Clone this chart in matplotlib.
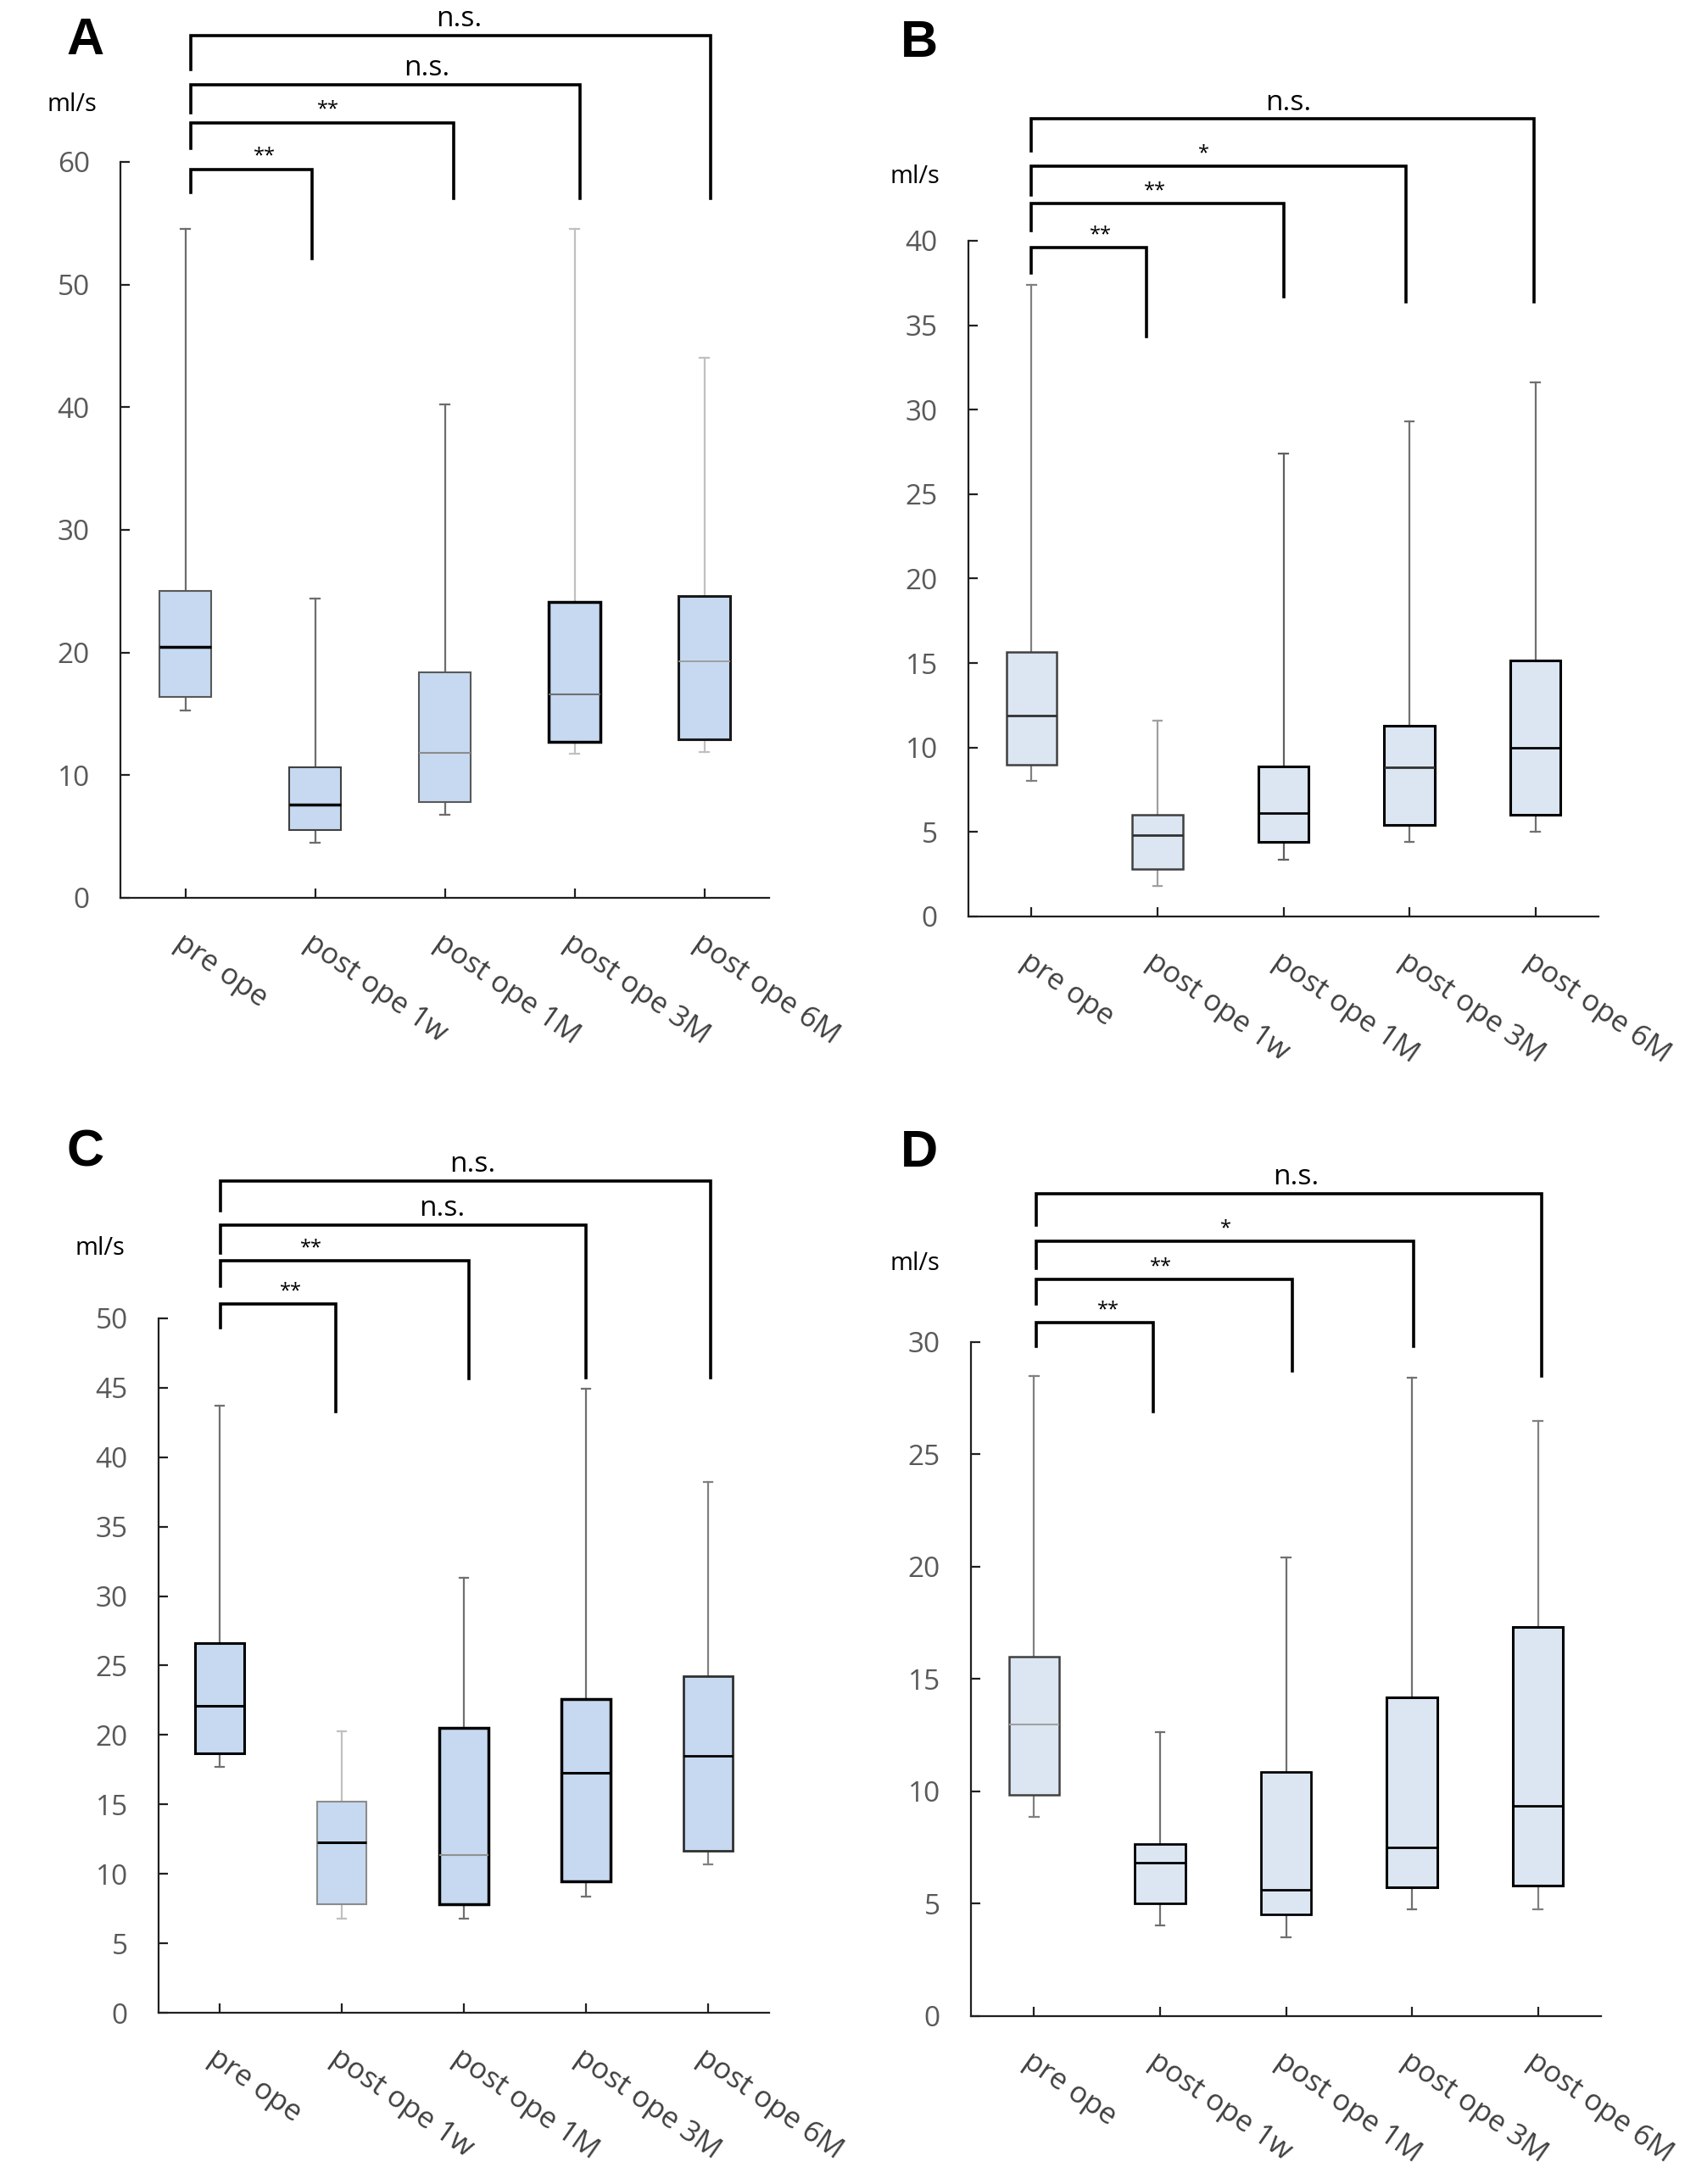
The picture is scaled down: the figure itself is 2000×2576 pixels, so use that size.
import numpy as np
import matplotlib
matplotlib.use("Agg")
import matplotlib.pyplot as plt

plt.rcParams['font.family'] = ['Open Sans', 'DejaVu Sans']

groups = ["pre ope", "post ope 1w", "post ope 1M", "post ope 3M", "post ope 6M"]

# five-number summaries (ml/s)
a_low = [15.3, 4.5, 6.8, 11.75, 11.9]
a_q1 = [16.35, 5.5, 7.8, 12.75, 12.9]
a_med = [20.45, 7.6, 11.85, 16.6, 19.25]
a_q3 = [25.0, 10.65, 18.35, 24.1, 24.6]
a_high = [54.5, 24.4, 40.2, 54.5, 44.0]

b_low = [8.0, 1.8, 3.36, 4.4, 5.0]
b_q1 = [9.0, 2.8, 4.43, 5.39, 6.0]
b_med = [11.9, 4.8, 6.13, 8.83, 9.99]
b_q3 = [15.67, 6.0, 8.87, 11.27, 15.17]
b_high = [37.4, 11.6, 27.4, 29.3, 31.6]

c_low = [17.7, 6.8, 6.8, 8.35, 10.7]
c_q1 = [18.7, 7.8, 7.8, 9.45, 11.65]
c_med = [22.1, 12.25, 11.35, 17.25, 18.5]
c_q3 = [26.6, 15.2, 20.5, 22.6, 24.25]
c_high = [43.7, 20.25, 31.3, 44.9, 38.2]

d_low = [8.85, 4.04, 3.52, 4.74, 4.74]
d_q1 = [9.83, 5.0, 4.53, 5.72, 5.79]
d_med = [12.98, 6.83, 5.63, 7.5, 9.37]
d_q3 = [16.0, 7.65, 10.87, 14.2, 17.3]
d_high = [28.5, 12.64, 20.4, 28.4, 26.5]

# significance brackets: pre ope vs each later time point
a_sig = ["**", "**", "n.s.", "n.s."]
b_sig = ["**", "**", "*", "n.s."]
c_sig = ["**", "**", "n.s.", "n.s."]
d_sig = ["**", "**", "*", "n.s."]

# bracket geometry (data units): right leg x, top y, left leg bottom, right leg bottom, label x
a_br = dict(left=0.04, right=[0.98, 2.07, 3.04, 4.05], top=[59.4, 63.2, 66.3, 70.3],
            lbot=[57.5, 61.1, 64.0, 67.5], rbot=[52.1, 57.0, 57.0, 57.0], tx=[0.61, 1.1, 1.86, 2.11])
b_br = dict(left=0.0, right=[0.91, 2.0, 2.97, 3.99], top=[39.6, 42.2, 44.4, 47.2],
            lbot=[38.1, 40.6, 42.7, 45.3], rbot=[34.3, 36.7, 36.4, 36.4], tx=[0.55, 0.98, 1.37, 2.04])
c_br = dict(left=0.01, right=[0.95, 2.04, 3.0, 4.02], top=[51.0, 54.15, 56.7, 59.9],
            lbot=[49.3, 52.3, 54.7, 57.75], rbot=[43.3, 45.65, 45.75, 45.75], tx=[0.58, 0.75, 1.82, 2.07])
d_br = dict(left=0.02, right=[0.95, 2.05, 3.01, 4.03], top=[30.85, 32.8, 34.5, 36.6],
            lbot=[29.8, 31.7, 33.3, 35.2], rbot=[26.9, 28.7, 29.8, 28.5], tx=[0.59, 1.01, 1.52, 2.08])

# per-box line styling (box edge, median, whisker colours and widths)
a_style = dict(fill="#c6d9f1",
               edge=["#595959", "#404040", "#595959", "#000000", "#1a1a1a"], elw=[1.5, 1.5, 1.5, 2.5, 2.2],
               med=["#000000", "#000000", "#8c8c8c", "#707070", "#9a9a9a"], mlw=[2.5, 2.5, 1.5, 1.5, 1.3],
               whis=["#6d6d6d", "#6d6d6d", "#6d6d6d", "#c0c0c0", "#c0c0c0"])
b_style = dict(fill="#dce6f2",
               edge=["#404040", "#404040", "#000000", "#000000", "#000000"], elw=[1.8, 1.8, 2.2, 2.2, 2.2],
               med=["#303030", "#303030", "#000000", "#303030", "#000000"], mlw=[2.0, 2.0, 2.0, 2.0, 2.0],
               whis=["#808080", "#a0a0a0", "#606060", "#707070", "#707070"])
c_style = dict(fill="#c6d9f1",
               edge=["#000000", "#8c8c8c", "#000000", "#000000", "#303030"], elw=[2.2, 1.5, 2.5, 2.5, 2.0],
               med=["#000000", "#000000", "#909090", "#000000", "#000000"], mlw=[2.2, 2.2, 1.5, 2.2, 2.0],
               whis=["#707070", "#c0c0c0", "#707070", "#707070", "#808080"])
d_style = dict(fill="#dce6f2",
               edge=["#404040", "#000000", "#000000", "#000000", "#000000"], elw=[1.8, 2.0, 2.0, 2.2, 2.2],
               med=["#a0a0a0", "#000000", "#000000", "#000000", "#000000"], mlw=[1.5, 2.0, 2.0, 2.0, 2.0],
               whis=["#808080", "#707070", "#707070", "#707070", "#808080"])


def make_stats(low, q1, med, q3, high):
    return [dict(whislo=lo, q1=a, med=m, q3=b, whishi=hi, fliers=[])
            for lo, a, m, b, hi in zip(low, q1, med, q3, high)]


def draw_panel(ax, stats, ymax, ystep, style, br, sig):
    pos = np.arange(len(groups))
    res = ax.bxp(stats, positions=pos, widths=0.4, patch_artist=True, showfliers=False,
                 capwidths=0.07, manage_ticks=False)
    for i in range(len(groups)):
        box = res["boxes"][i]
        box.set_facecolor(style["fill"])
        box.set_edgecolor(style["edge"][i])
        box.set_linewidth(style["elw"][i])
        box.set_zorder(3)
        res["medians"][i].set_color(style["med"][i])
        res["medians"][i].set_linewidth(style["mlw"][i])
        res["medians"][i].set_zorder(4)
        for ln in res["whiskers"][2 * i:2 * i + 2] + res["caps"][2 * i:2 * i + 2]:
            ln.set_color(style["whis"][i])
            ln.set_linewidth(1.6)

    ax.set_xlim(-0.5, 4.5)
    ax.set_ylim(0, ymax)
    ax.set_yticks(np.arange(0, ymax + 0.1, ystep))
    ax.set_xticks(pos)
    ax.set_xticklabels(groups, rotation=-35, ha="left", rotation_mode="anchor",
                       color="#404040", fontsize=25)
    for s in ["top", "right"]:
        ax.spines[s].set_visible(False)
    for s in ["left", "bottom"]:
        ax.spines[s].set_linewidth(1.6)
        ax.spines[s].set_color("#202020")
    ax.tick_params(axis="both", direction="in", length=8, width=1.6, color="#202020")
    ax.tick_params(axis="y", pad=26, labelsize=24, labelcolor="#595959")
    ax.tick_params(axis="x", pad=26)

    for i, lab in enumerate(sig):
        x0, x1 = br["left"], br["right"][i]
        ax.plot([x0, x0, x1, x1], [br["lbot"][i], br["top"][i], br["top"][i], br["rbot"][i]],
                color="black", lw=2.6, clip_on=False, solid_joinstyle="miter")
        fs = 24 if lab == "n.s." else 17
        ax.annotate(lab, (br["tx"][i], br["top"][i]), xytext=(0, 2), textcoords="offset points",
                    ha="center", va="bottom", fontsize=fs, color="black", annotation_clip=False)


fig = plt.figure(figsize=(20, 25.76), dpi=100)

ax_a = fig.add_axes([0.071, 0.5889, 0.3825, 0.337])
ax_b = fig.add_axes([0.571, 0.5804, 0.3715, 0.3094])
ax_c = fig.add_axes([0.0935, 0.0784, 0.36, 0.318])
ax_d = fig.add_axes([0.5725, 0.0769, 0.3715, 0.3086])

draw_panel(ax_a, make_stats(a_low, a_q1, a_med, a_q3, a_high), 60, 10, a_style, a_br, a_sig)
draw_panel(ax_b, make_stats(b_low, b_q1, b_med, b_q3, b_high), 40, 5, b_style, b_br, b_sig)
draw_panel(ax_c, make_stats(c_low, c_q1, c_med, c_q3, c_high), 50, 5, c_style, c_br, c_sig)
draw_panel(ax_d, make_stats(d_low, d_q1, d_med, d_q3, d_high), 30, 5, d_style, d_br, d_sig)

for lab, (x, y) in zip("ABCD", [(0.0505, 0.981), (0.542, 0.980), (0.0505, 0.472), (0.542, 0.472)]):
    fig.text(x, y, lab, fontsize=44, fontweight="bold", family=["Liberation Sans", "DejaVu Sans"],
             ha="center", va="center")
for x, y in [(0.0425, 0.952), (0.5395, 0.919), (0.059, 0.4285), (0.5395, 0.4215)]:
    fig.text(x, y, "ml/s", fontsize=21, ha="center", va="center", color="black")

fig.savefig("out.png", dpi=100)
